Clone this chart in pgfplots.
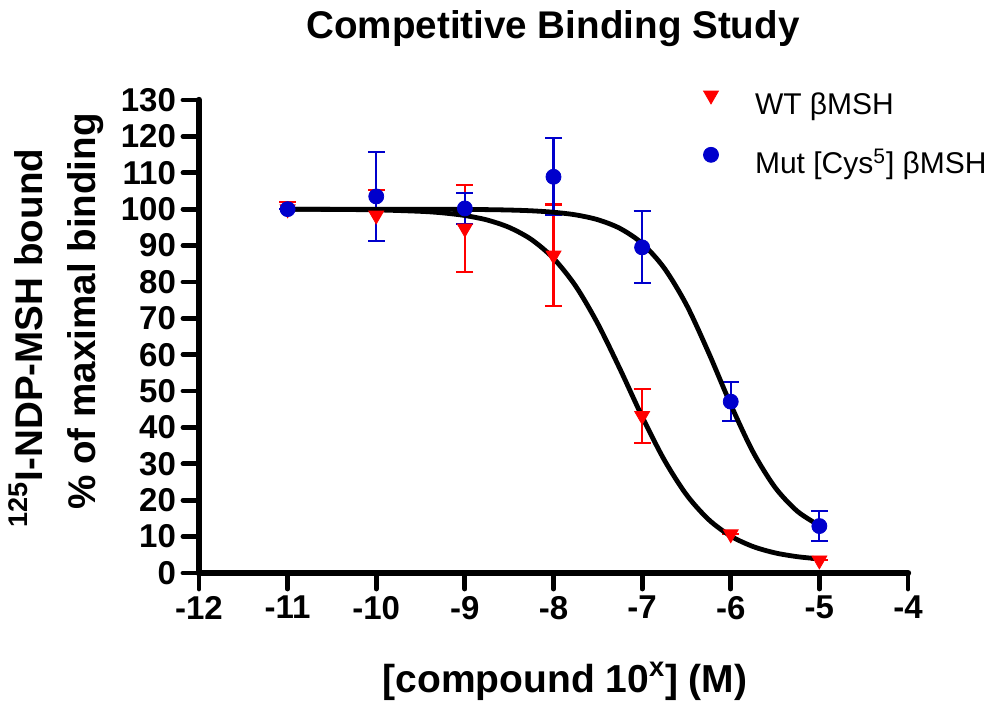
\documentclass[border=0pt]{standalone}
\usepackage{fontspec}
\setmainfont{Liberation Sans}
\usepackage{pgfplots}
\usepackage{pgfplotstable}
\pgfplotsset{compat=1.18}
\definecolor{wtred}{HTML}{FF0000}
\definecolor{mutblue}{HTML}{0000CC}

% measured points, mean and SEM (upper / lower)
\pgfplotstableread{
x    y     ep    em
-11  100.0 2.0   0.0
-10  98.3  7.0   7.0
-9   94.7  12.0  12.0
-8   87.3  14.0  14.0
-7   43.2  7.4   7.4
-6   10.7  0.0   0.0
-5   3.5   0.0   0.0
}\wtdata
\pgfplotstableread{
x    y     ep    em
-11  100.0 0.0   0.0
-10  103.5 12.2  12.2
-9   100.2 4.2   4.2
-8   108.9 10.6  10.6
-7   89.5  9.9   9.9
-6   47.1  5.4   5.4
-5   12.9  4.2   4.2
}\mutdata
% fitted curves
\pgfplotstableread{
x      y
-11    99.98
-10.5  99.93
-10    99.80
-9.5   99.40
-9.25  98.98
-9     98.25
-8.75  97.03
-8.5   94.98
-8.25  91.67
-8     86.49
-7.75  78.87
-7.5   68.50
-7.25  56.08
-7     42.99
-6.75  31.08
-6.5   21.53
-6.25  14.70
-6     10.15
-5.75  7.29
-5.5   5.53
-5.25  4.49
-5     3.87
}\wtfit
\pgfplotstableread{
x      y
-11    100.00
-10.5  100.00
-10    99.99
-9.5   99.98
-9     99.93
-8.75  99.87
-8.5   99.76
-8.25  99.55
-8     99.15
-7.75  98.43
-7.5   97.10
-7.25  94.71
-7     90.59
-6.75  83.79
-6.5   73.72
-6.25  60.57
-6     46.29
-5.75  33.34
-5.5   23.54
-5.25  17.00
-5     13.04
}\mutfit

\begin{document}
\begin{tikzpicture}
  \useasboundingbox (-99.5pt,-65pt) rectangle (398pt,286.5pt);
  \begin{axis}[
    at={(0pt,0pt)}, anchor=south west,
    scale only axis, width=354.5pt, height=236.5pt,
    xmin=-12, xmax=-4, ymin=0, ymax=130,
    xtick={-12,...,-4}, ytick={0,10,...,130},
    minor tick num=0,
    axis x line*=bottom, axis y line*=left,
    axis line style={-, line width=3.2pt, line cap=round, line join=round},
    tick align=outside, major tick length=8pt,
    major tick style={line width=2.4pt, line cap=round, black},
    /pgf/number format/assume math mode=true,
    tick label style={font=\bfseries\fontsize{16.5}{18}\selectfont},
    legend cell align=left,
    legend style={draw=none, fill=none, inner sep=0pt, outer sep=0pt,
      at={(0.7116,1.019)}, anchor=north west,
      font=\fontsize{15}{18}\selectfont, row sep=13.5pt,
      nodes={inner sep=0pt, text height=11pt, text depth=3pt},
      /tikz/every odd column/.append style={column sep=18.25pt}},
    legend image code/.code={\draw[#1] plot coordinates {(0pt,5.5pt)};},
  ]
    \addplot[only marks, mark=triangle*, mark size=4.3pt,
      mark options={rotate=180, fill=wtred, draw=wtred}, color=wtred,
      error bars/.cd, y dir=both, y explicit,
      error bar style={line width=1.1pt, wtred},
      error mark options={rotate=90, mark size=4.2pt, line width=1.1pt, wtred}]
      table[x=x, y=y, y error plus=ep, y error minus=em] {\wtdata};
    \addlegendentry{WT βMSH}
    \addplot[only marks, mark=*, mark size=3.75pt,
      mark options={fill=mutblue, draw=mutblue}, color=mutblue,
      error bars/.cd, y dir=both, y explicit,
      error bar style={line width=1.1pt, mutblue},
      error mark options={rotate=90, mark size=4.2pt, line width=1.1pt, mutblue}]
      table[x=x, y=y, y error plus=ep, y error minus=em] {\mutdata};
    \addlegendentry{Mut [Cys\textsuperscript{5}] βMSH}
    \addplot[black, line width=2.4pt, smooth, forget plot] table[x=x, y=y] {\wtfit};
    \addplot[black, line width=2.4pt, smooth, forget plot] table[x=x, y=y] {\mutfit};
  \end{axis}
  \node[anchor=base, font=\bfseries\fontsize{19.3}{22}\selectfont]
    at (177pt,267pt) {Competitive Binding Study};
  \node[anchor=base, font=\bfseries\fontsize{19.5}{22}\selectfont]
    at (183pt,-59.5pt) {[compound 10\textsuperscript{x}] (M)};
  \node[anchor=base, rotate=90, font=\bfseries\fontsize{19.3}{22}\selectfont]
    at (-78pt,117.5pt) {\textsuperscript{125}I-NDP-MSH bound};
  \node[anchor=base, rotate=90, font=\bfseries\fontsize{19.3}{22}\selectfont]
    at (-51.5pt,130.75pt) {\% of maximal binding};
\end{tikzpicture}
\end{document}
